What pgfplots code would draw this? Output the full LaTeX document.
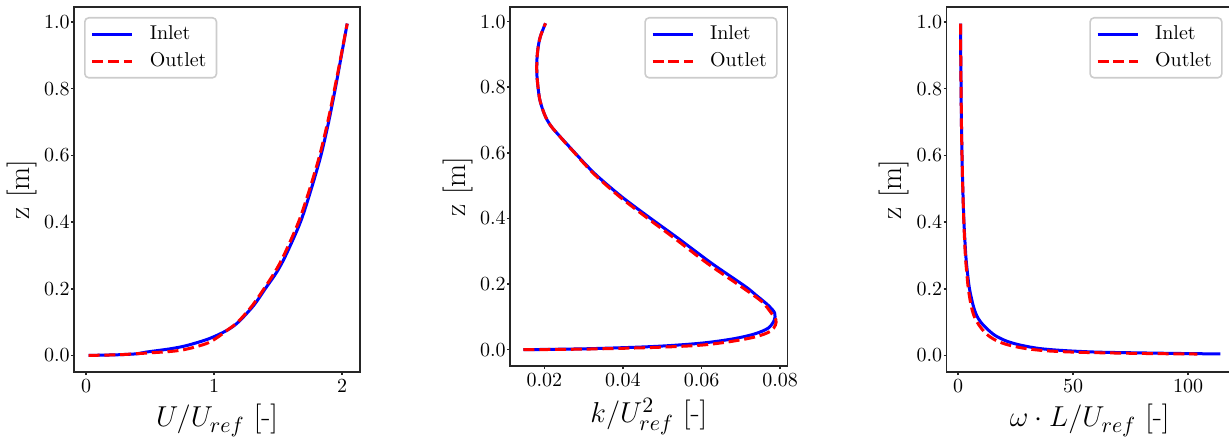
\documentclass[border=0pt]{standalone}
\usepackage{pgfplots}
\pgfplotsset{compat=1.18}

\pgfplotsset{
  panel/.style={
    scale only axis,
    anchor=south west,
    axis line style={black!85, line width=0.8pt},
    tick align=outside,
    tick pos=left,
    major tick length=1.5pt,
    every tick/.style={black!85, line width=0.8pt},
    ymin=-0.0497, ymax=1.0447,
    ytick={0,0.2,0.4,0.6,0.8,1},
    yticklabel style={inner sep=0.5pt, /pgf/number format/.cd, fixed, fixed zerofill, precision=1},
    xticklabel style={inner sep=0pt, yshift=-2pt},
    tick label style={font=\fontsize{10}{12}\selectfont},
    label style={font=\fontsize{15}{18}\selectfont, inner sep=0pt},
    ylabel={z [m]},
    ylabel style={at={([xshift=-18.5pt]axis description cs:0,0.5)}, anchor=south},
    xlabel style={at={([yshift=-16pt]axis description cs:0.5,0)}, anchor=north},
    legend cell align=left,
    legend image code/.code={\draw[##1] (0pt,0pt) -- (20pt,0pt); \path (26pt,0pt);},
    legend style={draw=black!20, line width=0.8pt, rounded corners=2pt, fill=white,
      fill opacity=0.8, text opacity=1, font=\fontsize{10}{12}\selectfont,
      inner xsep=3pt, inner ysep=2pt, row sep=1pt},
  },
  inlet/.style={blue, line width=1.5pt, smooth},
  outlet/.style={red, line width=1.5pt, dash pattern=on 5.5pt off 2.4pt, smooth},
  legNW/.style={legend style={at={(axis description cs:0,1)}, anchor=north west, xshift=5pt, yshift=-5pt}},
  legNE/.style={legend style={at={(axis description cs:1,1)}, anchor=north east, xshift=-5pt, yshift=-5pt}},
}

\begin{document}
\begin{tikzpicture}
\useasboundingbox (0,0) rectangle (614.5pt,219.5pt);

% velocity
\begin{axis}[panel, legNW,
  at={(37pt,33.5pt)}, width=143pt, height=182.5pt,
  xmin=-0.094, xmax=2.14, xtick={0,1,2},
  xlabel={$U/U_{ref}$ [-]}]
\addplot[inlet] coordinates {
 (0.02,0) (0.25,0.002) (0.40,0.005) (0.47,0.010) (0.66,0.020) (0.79,0.030)
 (0.96,0.050) (1.10,0.075) (1.19,0.100) (1.31,0.150) (1.40,0.200) (1.49,0.250)
 (1.56,0.300) (1.675,0.400) (1.76,0.500) (1.835,0.600) (1.895,0.700) (1.947,0.800)
 (1.995,0.900) (2.04,0.995)
};
\addlegendentry{Inlet}
\addplot[outlet] coordinates {
 (0.02,0) (0.25,0.002) (0.43,0.006) (0.69,0.013) (0.82,0.022) (0.95,0.037)
 (1.03,0.055) (1.10,0.075) (1.185,0.100) (1.30,0.150) (1.39,0.200) (1.475,0.250)
 (1.545,0.300) (1.66,0.400) (1.748,0.500) (1.825,0.600) (1.888,0.700) (1.942,0.800)
 (1.993,0.900) (2.04,0.995)
};
\addlegendentry{Outlet}
\end{axis}

% turbulent kinetic energy
\begin{axis}[panel, legNE,
  at={(255pt,36.5pt)}, width=138.8pt, height=179.5pt,
  xmin=0.01127, xmax=0.0819, xtick={0.02,0.04,0.06,0.08},
  scaled x ticks=false,
  xticklabel style={/pgf/number format/.cd, fixed, fixed zerofill, precision=2},
  xlabel style={at={([yshift=-16pt]axis description cs:0.5,0)}},
  xlabel={$k/U_{ref}^2$ [-]}]
\addplot[inlet] coordinates {
 (0.0147,0.000) (0.0312,0.003) (0.0482,0.010) (0.0600,0.020) (0.0680,0.033)
 (0.0735,0.048) (0.0770,0.066) (0.0785,0.090) (0.0786,0.112) (0.0770,0.135)
 (0.0740,0.165) (0.0711,0.193) (0.0626,0.263) (0.0541,0.339) (0.0465,0.405)
 (0.0397,0.466) (0.0337,0.527) (0.0305,0.565) (0.0278,0.600) (0.0255,0.630)
 (0.0236,0.655) (0.0218,0.680) (0.0205,0.705) (0.0195,0.735) (0.0188,0.765)
 (0.0184,0.800) (0.0181,0.840) (0.0181,0.880) (0.0184,0.920) (0.0190,0.955)
 (0.0203,0.995)
};
\addlegendentry{Inlet}
\addplot[outlet] coordinates {
 (0.0147,0.000) (0.0312,0.002) (0.0482,0.007) (0.0600,0.014) (0.0680,0.026)
 (0.0740,0.040) (0.0775,0.056) (0.0788,0.075) (0.0789,0.092) (0.0778,0.111)
 (0.0753,0.147) (0.0700,0.193) (0.0615,0.263) (0.0532,0.339) (0.0458,0.405)
 (0.0392,0.466) (0.0334,0.527) (0.0303,0.565) (0.0277,0.600) (0.0254,0.630)
 (0.0236,0.655) (0.0218,0.680) (0.0205,0.705) (0.0195,0.735) (0.0188,0.765)
 (0.0184,0.800) (0.0181,0.840) (0.0181,0.880) (0.0184,0.920) (0.0190,0.955)
 (0.0203,0.995)
};
\addlegendentry{Outlet}
\end{axis}

% specific dissipation rate
\begin{axis}[panel, legNE,
  at={(473.3pt,33.5pt)}, width=143pt, height=182.5pt,
  xmin=-5.04, xmax=119.3, xtick={0,50,100},
  xlabel={$\omega\cdot L/U_{ref}$ [-]}]
\addplot[inlet] coordinates {
 (1.0,0.995) (1.1,0.90) (1.25,0.80) (1.4,0.70) (1.65,0.60) (2.0,0.50) (2.5,0.40)
 (3.3,0.30) (4.0,0.25) (4.9,0.20) (6.5,0.15) (8.0,0.12) (9.8,0.10) (12.5,0.08)
 (16,0.06) (21,0.043) (27,0.031) (35,0.021) (45,0.015) (60,0.010) (80,0.0075)
 (100,0.0055) (114,0.0045)
};
\addlegendentry{Inlet}
\addplot[outlet] coordinates {
 (1.0,0.995) (1.1,0.90) (1.25,0.80) (1.4,0.70) (1.65,0.60) (2.0,0.50) (2.45,0.40)
 (3.1,0.30) (3.7,0.25) (4.4,0.20) (5.6,0.15) (6.8,0.12) (8.2,0.10) (10.2,0.08)
 (13,0.06) (17,0.043) (22,0.031) (29,0.021) (38,0.014) (52,0.0095) (70,0.007)
 (88,0.0052) (104,0.0042)
};
\addlegendentry{Outlet}
\end{axis}
\end{tikzpicture}
\end{document}
